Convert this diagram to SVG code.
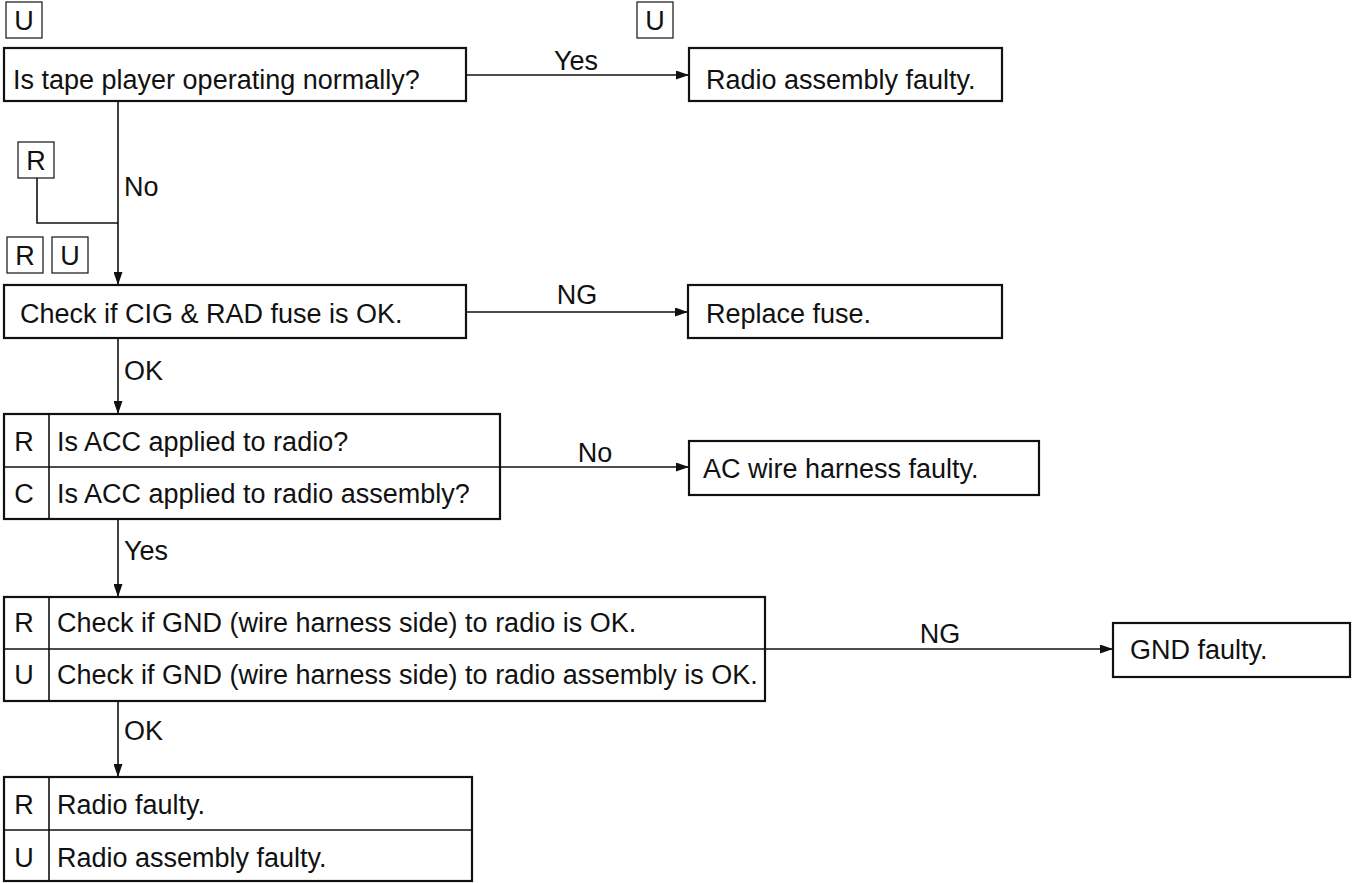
<svg xmlns="http://www.w3.org/2000/svg" width="1353" height="883" viewBox="0 0 1353 883">
<defs>
<style>
text{font-family:"Liberation Sans",Arial,Helvetica,sans-serif;font-size:27px;fill:#111}
.box{fill:#fff;stroke:#111;stroke-width:2.2}
.tag{fill:#fff;stroke:#111;stroke-width:1.2}
.div{stroke:#111;stroke-width:1.6;fill:none}
.conn{stroke:#111;stroke-width:1.6;fill:none}
.mid{text-anchor:middle}
</style>
<marker id="arr" markerWidth="13" markerHeight="9" refX="13" refY="4.5" orient="auto" markerUnits="userSpaceOnUse">
<path d="M0,0 L13,4.5 L0,9 z" fill="#111"/>
</marker>
</defs>
<rect width="1353" height="883" fill="#fff"/>

<g id="connectors">
<path class="conn" d="M466,75 H689" marker-end="url(#arr)"/>
<path class="conn" d="M118,101 V285" marker-end="url(#arr)"/>
<path class="conn" d="M37,178 V223 H118"/>
<path class="conn" d="M466,312 H688" marker-end="url(#arr)"/>
<path class="conn" d="M118,338 V414" marker-end="url(#arr)"/>
<path class="conn" d="M500,467 H689" marker-end="url(#arr)"/>
<path class="conn" d="M118,519 V597" marker-end="url(#arr)"/>
<path class="conn" d="M765,649 H1113" marker-end="url(#arr)"/>
<path class="conn" d="M118,701 V777" marker-end="url(#arr)"/>
<text x="576" y="70" class="mid">Yes</text>
<text x="124" y="196">No</text>
<text x="577" y="304" class="mid">NG</text>
<text x="124" y="380">OK</text>
<text x="595" y="462" class="mid">No</text>
<text x="124" y="560">Yes</text>
<text x="940" y="643" class="mid">NG</text>
<text x="124" y="740">OK</text>
</g>

<g id="tag-u1"><rect class="tag" x="6" y="2" width="36" height="36"/><text x="24" y="30" class="mid">U</text></g>
<g id="tag-u2"><rect class="tag" x="637" y="2" width="36" height="36"/><text x="655" y="30" class="mid">U</text></g>
<g id="tag-r1"><rect class="tag" x="18" y="142" width="36" height="36"/><text x="36" y="170" class="mid">R</text></g>
<g id="tag-r2"><rect class="tag" x="7" y="237" width="36" height="36"/><text x="25" y="265" class="mid">R</text></g>
<g id="tag-u3"><rect class="tag" x="52" y="237" width="36" height="36"/><text x="70" y="265" class="mid">U</text></g>

<g id="n-tape">
<rect class="box" x="4" y="48" width="462" height="53"/>
<text x="13" y="89">Is tape player operating normally?</text>
</g>
<g id="n-radio-asm">
<rect class="box" x="689" y="48" width="313" height="53"/>
<text x="706" y="89">Radio assembly faulty.</text>
</g>
<g id="n-fuse">
<rect class="box" x="4" y="285" width="462" height="53"/>
<text x="20" y="323">Check if CIG &amp; RAD fuse is OK.</text>
</g>
<g id="n-replace">
<rect class="box" x="688" y="285" width="314" height="53"/>
<text x="706" y="323">Replace fuse.</text>
</g>
<g id="n-acc">
<rect class="box" x="4" y="414" width="496" height="105"/>
<line class="div" x1="4" y1="467" x2="500" y2="467"/>
<line class="div" x1="49" y1="414" x2="49" y2="519"/>
<text x="24" y="451" class="mid">R</text>
<text x="57" y="451">Is ACC applied to radio?</text>
<text x="24" y="503" class="mid">C</text>
<text x="57" y="503">Is ACC applied to radio assembly?</text>
</g>
<g id="n-ac">
<rect class="box" x="689" y="441" width="350" height="54"/>
<text x="703" y="478">AC wire harness faulty.</text>
</g>
<g id="n-gnd">
<rect class="box" x="4" y="597" width="761" height="104"/>
<line class="div" x1="4" y1="649" x2="765" y2="649"/>
<line class="div" x1="49" y1="597" x2="49" y2="701"/>
<text x="24" y="632" class="mid">R</text>
<text x="57" y="632">Check if GND (wire harness side) to radio is OK.</text>
<text x="24" y="684" class="mid">U</text>
<text x="57" y="684">Check if GND (wire harness side) to radio assembly is OK.</text>
</g>
<g id="n-gnd-faulty">
<rect class="box" x="1113" y="623" width="237" height="54"/>
<text x="1130" y="659">GND faulty.</text>
</g>
<g id="n-final">
<rect class="box" x="4" y="777" width="468" height="104"/>
<line class="div" x1="4" y1="830" x2="472" y2="830"/>
<line class="div" x1="49" y1="777" x2="49" y2="881"/>
<text x="24" y="814" class="mid">R</text>
<text x="57" y="814">Radio faulty.</text>
<text x="24" y="867" class="mid">U</text>
<text x="57" y="867">Radio assembly faulty.</text>
</g>
</svg>
